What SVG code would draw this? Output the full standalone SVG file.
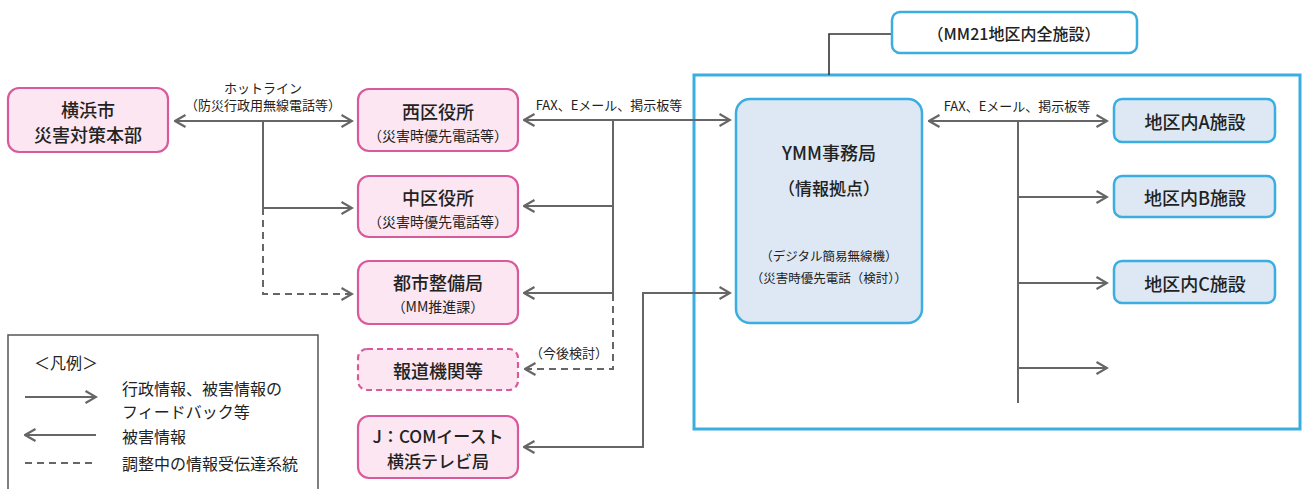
<svg xmlns="http://www.w3.org/2000/svg" width="1304" height="489" viewBox="0 0 1304 489">
<style>
text{font-family:"Noto Sans CJK JP","Noto Sans",sans-serif;fill:#222;text-anchor:middle;dominant-baseline:central}
.pink{fill:#fbe6f1;stroke:#d95a9c;stroke-width:2.2}
.pinkd{fill:#fbe6f1;stroke:#d95a9c;stroke-width:2.2;stroke-dasharray:6 4}
.blue{fill:#dde8f4;stroke:#3aaee0;stroke-width:2.5}
.bluew{fill:#fff;stroke:#3aaee0;stroke-width:2.5}
.ln{fill:none;stroke:#666;stroke-width:2}
.dash{fill:none;stroke:#666;stroke-width:2;stroke-dasharray:7 5}
.t{font-size:18px;font-weight:500}
.s{font-size:14px}
.lbl{font-size:13px}
.leg{font-size:16px;text-anchor:start}
</style>
<defs>
<marker id="ah" viewBox="0 0 13 14" refX="11.5" refY="7" markerWidth="13" markerHeight="14" markerUnits="userSpaceOnUse" orient="auto-start-reverse">
<path d="M1,1 L11.5,7 L1,13" fill="none" stroke="#666" stroke-width="2.2"/>
</marker>
</defs>
<rect width="1304" height="489" fill="#fff"/>

<g id="mm21-area">
<rect x="694" y="75" width="606" height="354" fill="none" stroke="#3aaee0" stroke-width="3"/>
</g>

<g id="connectors">
<line class="ln" x1="175" y1="121" x2="352" y2="121" marker-start="url(#ah)" marker-end="url(#ah)"/>
<path class="ln" d="M263,121 V208 H352" marker-end="url(#ah)"/>
<path class="dash" d="M263,208 V294 H352" marker-end="url(#ah)"/>
<line class="ln" x1="524" y1="120" x2="730" y2="120" marker-start="url(#ah)" marker-end="url(#ah)"/>
<path class="ln" d="M613,120 V294"/>
<line class="ln" x1="613" y1="206" x2="524" y2="206" marker-end="url(#ah)"/>
<line class="ln" x1="613" y1="293" x2="524" y2="293" marker-end="url(#ah)"/>
<path class="dash" d="M613,294 V369 H525" marker-end="url(#ah)"/>
<path class="ln" d="M730,293 H643 V447 H524" marker-start="url(#ah)" marker-end="url(#ah)"/>
<path d="M892,34 H829 V75" fill="none" stroke="#333" stroke-width="1.6"/>
<line class="ln" x1="929" y1="121" x2="1107" y2="121" marker-start="url(#ah)" marker-end="url(#ah)"/>
<line class="ln" x1="1018" y1="121" x2="1018" y2="403"/>
<line class="ln" x1="1018" y1="197" x2="1107" y2="197" marker-end="url(#ah)"/>
<line class="ln" x1="1018" y1="283" x2="1107" y2="283" marker-end="url(#ah)"/>
<line class="ln" x1="1018" y1="368" x2="1107" y2="368" marker-end="url(#ah)"/>
<text class="lbl" x="263" y="87">ホットライン</text>
<text class="lbl" x="263" y="104">（防災行政用無線電話等）</text>
<text class="lbl" x="609" y="104">FAX、Eメール、掲示板等</text>
<text class="lbl" x="1017" y="105">FAX、Eメール、掲示板等</text>
<text class="lbl" x="569" y="352">（今後検討）</text>
</g>

<g id="yokohama-hq">
<rect class="pink" x="8" y="88" width="160" height="64" rx="11"/>
<text class="t" x="88" y="109">横浜市</text>
<text class="t" x="88" y="134">災害対策本部</text>
</g>

<g id="nishi-ku">
<rect class="pink" x="358" y="89" width="160" height="62" rx="11"/>
<text class="t" x="438" y="111">西区役所</text>
<text class="s" x="438" y="135">（災害時優先電話等）</text>
</g>

<g id="naka-ku">
<rect class="pink" x="358" y="176" width="160" height="61" rx="11"/>
<text class="t" x="438" y="197">中区役所</text>
<text class="s" x="438" y="221">（災害時優先電話等）</text>
</g>

<g id="toshi-seibi">
<rect class="pink" x="358" y="261" width="160" height="63" rx="11"/>
<text class="t" x="438" y="282">都市整備局</text>
<text class="s" x="438" y="306">（MM推進課）</text>
</g>

<g id="hodo">
<rect class="pinkd" x="358" y="349" width="160" height="41" rx="9"/>
<text class="t" x="438" y="370">報道機関等</text>
</g>

<g id="jcom">
<rect class="pink" x="358" y="416" width="160" height="62" rx="11"/>
<text class="t" x="438" y="435" style="font-size:17px">J：COMイースト</text>
<text class="t" x="438" y="460" style="font-size:17px">横浜テレビ局</text>
</g>

<g id="mm21-all">
<rect class="bluew" x="892" y="12" width="245" height="41" rx="8"/>
<text x="1014" y="33" style="font-size:16px;font-weight:500">（MM21地区内全施設）</text>
</g>

<g id="ymm">
<rect class="blue" x="736" y="99" width="186" height="224" rx="14"/>
<text class="t" x="829" y="152">YMM事務局</text>
<text x="829" y="187" style="font-size:17px;font-weight:500">（情報拠点）</text>
<text x="829" y="255" style="font-size:12.5px">（デジタル簡易無線機）</text>
<text x="829" y="277" style="font-size:12.5px">（災害時優先電話（検討））</text>
</g>

<g id="facility-a">
<rect class="blue" x="1114" y="99" width="161" height="43" rx="8"/>
<text class="t" x="1195" y="121">地区内A施設</text>
</g>
<g id="facility-b">
<rect class="blue" x="1114" y="176" width="161" height="41" rx="8"/>
<text class="t" x="1195" y="197">地区内B施設</text>
</g>
<g id="facility-c">
<rect class="blue" x="1114" y="261" width="161" height="42" rx="8"/>
<text class="t" x="1195" y="283">地区内C施設</text>
</g>

<g id="legend">
<rect x="8" y="335" width="310" height="160" fill="#fff" stroke="#555" stroke-width="1.5"/>
<text class="leg" x="34" y="362">＜凡例＞</text>
<line class="ln" x1="25" y1="397" x2="96" y2="397" marker-end="url(#ah)"/>
<text class="leg" x="122" y="388">行政情報、被害情報の</text>
<text class="leg" x="122" y="411">フィードバック等</text>
<line class="ln" x1="96" y1="435" x2="25" y2="435" marker-end="url(#ah)"/>
<text class="leg" x="122" y="436">被害情報</text>
<line class="dash" x1="25" y1="463" x2="97" y2="463"/>
<text class="leg" x="122" y="463">調整中の情報受伝達系統</text>
</g>
</svg>
